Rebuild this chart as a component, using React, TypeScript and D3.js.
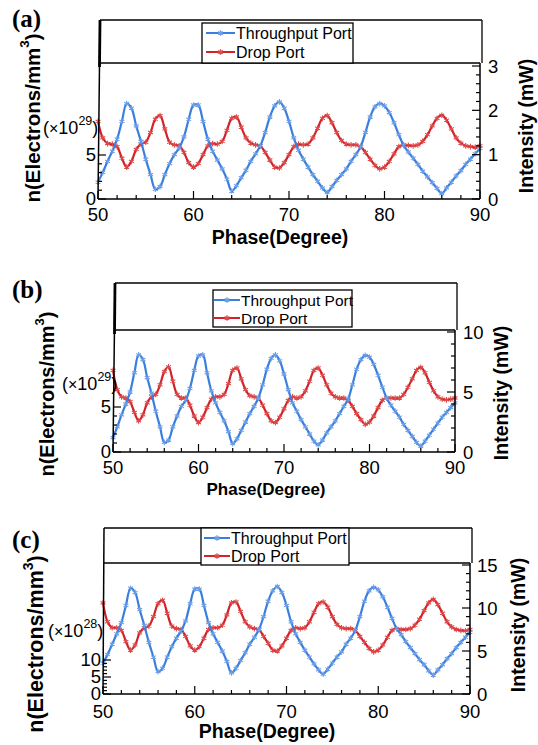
import React from "react";
import * as d3 from "d3";

// phase grid (degree), shared by all three panels
const phase = [
  50, 50.5, 51, 51.5, 52, 52.5, 53, 53.5, 54, 54.5,
  55, 55.5, 56, 56.5, 57, 57.5, 58, 58.5, 59, 59.5,
  60, 60.5, 61, 61.5, 62, 62.5, 63, 63.5, 64, 64.5,
  65, 65.5, 66, 66.5, 67, 67.5, 68, 68.5, 69, 69.5,
  70, 70.5, 71, 71.5, 72, 72.5, 73, 73.5, 74, 74.5,
  75, 75.5, 76, 76.5, 77, 77.5, 78, 78.5, 79, 79.5,
  80, 80.5, 81, 81.5, 82, 82.5, 83, 83.5, 84, 84.5,
  85, 85.5, 86, 86.5, 87, 87.5, 88, 88.5, 89, 89.5,
  90,
];

// (a) intensity, mW
const throughA = [
  0.38, 0.6, 0.85, 1.08, 1.35, 1.75, 2.15, 2.05, 1.65, 1.3,
  0.9, 0.55, 0.22, 0.28, 0.55, 0.8, 1.0, 1.15, 1.4, 1.8,
  2.12, 2.12, 1.75, 1.35, 1.08, 0.88, 0.68, 0.45, 0.18, 0.3,
  0.48, 0.65, 0.85, 1.02, 1.2, 1.5, 1.85, 2.1, 2.19, 2.05,
  1.75, 1.38, 1.1, 0.9, 0.72, 0.55, 0.4, 0.25, 0.15, 0.28,
  0.42, 0.55, 0.68, 0.85, 1.0, 1.18, 1.5, 1.85, 2.08, 2.15,
  2.1, 1.95, 1.72, 1.45, 1.21, 1.06, 0.92, 0.78, 0.63, 0.5,
  0.37, 0.24, 0.12, 0.25, 0.38, 0.52, 0.64, 0.78, 0.9, 1.02,
  1.14,
];
const dropA = [
  1.75, 1.38, 1.25, 1.24, 1.18, 0.92, 0.72, 0.85, 1.12, 1.24,
  1.28, 1.5, 1.8, 1.88, 1.58, 1.28, 1.22, 1.2, 1.05, 0.82,
  0.72, 0.8, 1.0, 1.2, 1.25, 1.24, 1.3, 1.55, 1.82, 1.85,
  1.62, 1.38, 1.26, 1.22, 1.2, 1.05, 0.88, 0.72, 0.7, 0.82,
  1.0, 1.18, 1.24, 1.22, 1.24, 1.38, 1.6, 1.82, 1.88, 1.72,
  1.5, 1.32, 1.24, 1.22, 1.22, 1.18, 1.05, 0.9, 0.76, 0.68,
  0.72, 0.85, 1.02, 1.18, 1.22, 1.21, 1.2, 1.22, 1.3, 1.45,
  1.65, 1.82, 1.89, 1.78, 1.58, 1.38, 1.26, 1.2, 1.18, 1.17,
  1.2,
];

// (b)
const throughB = [
  1.2, 2.1, 3.1, 4.0, 5.0, 6.6, 8.1, 7.7, 6.2, 4.9,
  3.4, 2.1, 0.8, 1.0, 2.1, 3.0, 3.8, 4.3, 5.3, 6.8,
  8.0, 8.1, 6.6, 5.1, 4.1, 3.3, 2.6, 1.7, 0.7, 1.1,
  1.8, 2.5, 3.2, 3.8, 4.5, 5.6, 6.9, 7.8, 8.1, 7.6,
  6.5, 5.2, 4.1, 3.4, 2.7, 2.1, 1.5, 0.9, 0.6, 1.0,
  1.6, 2.1, 2.6, 3.2, 3.8, 4.4, 5.6, 6.9, 7.7, 8.05,
  7.9, 7.3, 6.4, 5.4, 4.5, 3.9, 3.4, 2.9, 2.3, 1.8,
  1.3, 0.8, 0.5, 0.9, 1.4, 1.9, 2.4, 2.9, 3.3, 3.7,
  4.1,
];
const dropB = [
  6.8, 5.2, 4.6, 4.5, 4.2, 3.3, 2.6, 3.1, 4.1, 4.6,
  4.8, 5.6, 6.7, 7.1, 5.9, 4.8, 4.5, 4.5, 3.9, 3.0,
  2.45, 2.9, 3.7, 4.4, 4.6, 4.6, 4.8, 5.7, 6.8, 7.0,
  6.1, 5.2, 4.7, 4.6, 4.5, 3.9, 3.2, 2.6, 2.45, 2.9,
  3.6, 4.3, 4.6, 4.5, 4.6, 5.1, 5.9, 6.8, 7.0, 6.4,
  5.6, 4.9, 4.6, 4.5, 4.5, 4.3, 3.8, 3.2, 2.7, 2.3,
  2.5, 3.0, 3.7, 4.3, 4.5, 4.5, 4.5, 4.5, 4.8, 5.4,
  6.1, 6.8, 7.05, 6.6, 5.8, 5.1, 4.6, 4.4, 4.35, 4.4,
  4.5,
];

// (c)
const throughC = [
  3.6, 4.6, 5.8, 7.0, 8.3, 10.3, 12.3, 11.8, 9.8, 8.0,
  6.0, 4.3, 2.6, 3.0, 4.3, 5.5, 6.5, 7.3, 8.5, 10.5,
  12.2, 12.2, 10.3, 8.3, 7.0, 6.0, 5.0, 3.8, 2.45, 3.0,
  3.9, 4.8, 5.8, 6.6, 7.5, 9.0, 10.8, 12.0, 12.5, 11.8,
  10.3, 8.4, 7.0, 6.0, 5.1, 4.3, 3.5, 2.8, 2.3, 2.9,
  3.6, 4.3, 4.9, 5.8, 6.5, 7.4, 9.0, 10.8, 12.0, 12.4,
  12.1, 11.3, 10.1, 8.8, 7.6, 6.9, 6.1, 5.4, 4.7, 4.0,
  3.4, 2.7, 2.2, 2.8, 3.4, 4.1, 4.7, 5.4, 6.0, 6.6,
  7.2,
];
const dropC = [
  10.6, 8.4, 7.7, 7.7, 7.4, 6.1, 5.1, 5.7, 7.1, 7.7,
  7.9, 9.0, 10.5, 10.9, 9.4, 7.9, 7.6, 7.5, 6.7, 5.6,
  5.1, 5.5, 6.5, 7.5, 7.7, 7.7, 8.0, 9.2, 10.6, 10.7,
  9.6, 8.4, 7.8, 7.6, 7.5, 6.7, 5.9, 5.1, 5.0, 5.6,
  6.5, 7.4, 7.7, 7.6, 7.7, 8.4, 9.5, 10.5, 10.7, 10.1,
  9.0, 8.1, 7.7, 7.6, 7.6, 7.4, 6.7, 6.0, 5.3, 4.9,
  5.1, 5.7, 6.6, 7.4, 7.6, 7.5, 7.5, 7.6, 8.0, 8.7,
  9.7, 10.6, 11.0, 10.4, 9.4, 8.4, 7.8, 7.5, 7.4, 7.35,
  7.5,
];

const xTicks = [50, 60, 70, 80, 90];
const seriesNames = ["Throughput Port", "Drop Port"];

const BLUE = "#3b7fdc";
const BLUE_MK = "#6c9fe8";
const RED = "#d2222a";
const RED_MK = "#df4a4a";
const SANS = "'Liberation Sans', Arial, sans-serif";

// layout of each panel (pixels)
const panels = [
  {
    tag: "(a)", tagY: 27, through: throughA, drop: dropA,
    x0: 98, x1: 480, yB: 199, boxL: 100, boxT: 20, band: 63,
    rMax: 3, rTop: 66, rTicks: [0, 1, 2, 3], rMinor: 0.2, rLabX: 488,
    lMax: 5, lTop: 155, lTicks: [0, 5], expY: 128, expX: 43, exp: "29",
    leg: { x0: 202, x1: 353, y0: 23, y1: 63, lx0: 206, lx1: 235, r1: 33, r2: 52, fs: 16 },
    ylab: { cx: 32, cy: 118, fs: 20.5 }, ilab: { cx: 526, cy: 126, fs: 19.5 },
    xlab: { cx: 280, y: 244, fs: 19.5 }, tickY: 221, slant: true,
  },
  {
    tag: "(b)", tagY: 298, through: throughB, drop: dropB,
    x0: 113, x1: 455, yB: 452, boxL: 115, boxT: 283, band: 330,
    rMax: 10, rTop: 332, rTicks: [0, 5, 10], rMinor: 1, rLabX: 463,
    lMax: 5, lTop: 407, lTicks: [0, 5], expY: 384, expX: 62, exp: "29",
    leg: { x0: 213, x1: 352, y0: 290, y1: 327, lx0: 214, lx1: 240, r1: 300, r2: 318, fs: 15.5 },
    ylab: { cx: 47, cy: 394, fs: 20 }, ilab: { cx: 501, cy: 393, fs: 19.5 },
    xlab: { cx: 266, y: 495, fs: 17 }, tickY: 474, slant: true,
  },
  {
    tag: "(c)", tagY: 548, through: throughC, drop: dropC,
    x0: 103, x1: 470, yB: 694, boxL: 104, boxT: 528, band: 563,
    rMax: 15, rTop: 565, rTicks: [0, 5, 10, 15], rMinor: 1, rLabX: 477,
    lMax: 10, lTop: 660, lTicks: [0, 5, 10], expY: 631, expX: 48, exp: "28",
    leg: { x0: 201, x1: 349, y0: 528, y1: 565, lx0: 204, lx1: 230, r1: 538, r2: 556, fs: 16 },
    ylab: { cx: 36, cy: 644, fs: 21.5 }, ilab: { cx: 518, cy: 625, fs: 19.5 },
    xlab: { cx: 267, y: 738, fs: 19.5 }, tickY: 718, slant: false,
  },
];

function Panel({ p }: { p: any }) {
  const x = d3.scaleLinear().domain([50, 90]).range([p.x0, p.x1]);
  const yR = d3.scaleLinear().domain([0, p.rMax]).range([p.yB, p.rTop]);
  const yL = d3.scaleLinear().domain([0, p.lMax]).range([p.yB, p.lTop]);
  const mkLine = (vals: number[]) =>
    d3.line<number>()
      .x((_, i) => x(phase[i]))
      .y((d) => yR(d))
      .curve(d3.curveCatmullRom)(vals) || "";
  const mark = d3.symbol(d3.symbolAsterisk, 22)() || "";
  const xMinor = d3.range(50, 90.01, 2).filter((v) => v % 10 !== 0);
  const rMinor = d3.range(0, p.rMax + 1e-6, p.rMinor);
  const lMinor = d3.range(0, p.lMax + 1e-6, 1);
  const leg = p.leg;

  const series = [
    { vals: p.drop, color: RED, mk: RED_MK },
    { vals: p.through, color: BLUE, mk: BLUE_MK },
  ];

  return (
    <g fontFamily={SANS}>
      <text x={12} y={p.tagY} fontFamily="'Liberation Serif', 'Times New Roman', serif"
        fontWeight="bold" fontSize={25}>{p.tag}</text>

      {/* curves */}
      {series.map((s, k) => (
        <g key={k}>
          <path d={mkLine(s.vals)} fill="none" stroke={s.color} strokeWidth={2.2} />
          {s.vals.map((v: number, i: number) => (
            <path key={i} d={mark} transform={`translate(${x(phase[i])},${yR(v)})`}
              fill="none" stroke={s.mk} strokeWidth={1.1} />
          ))}
        </g>
      ))}

      {/* frame */}
      <g stroke="#000" fill="none">
        <line x1={p.boxL} y1={p.boxT} x2={p.x1 + 2} y2={p.boxT} strokeWidth={1.3} />
        <line x1={p.x1 + 2} y1={p.boxT} x2={p.x1 + 2} y2={p.band} strokeWidth={1.3} />
        <line x1={p.boxL} y1={p.band} x2={p.x1} y2={p.band} strokeWidth={1.3} />
        <line x1={p.x1} y1={p.band} x2={p.x1} y2={p.yB} strokeWidth={1.5} />
        <line x1={p.x0} y1={p.yB} x2={p.x1} y2={p.yB} strokeWidth={1.5} />
        <line x1={p.x0} y1={p.yB} x2={p.boxL} y2={p.boxT} strokeWidth={1.5} />
        {p.slant && (
          <line x1={p.boxL - 0.5} y1={p.band + 4} x2={p.boxL} y2={p.boxT} strokeWidth={2.8} />
        )}
      </g>

      {/* axis ticks, all pointing into the plot */}
      <g stroke="#000" strokeWidth={1.2}>
        {xTicks.map((t) => (
          <line key={t} x1={x(t)} x2={x(t)} y1={p.yB} y2={p.yB - 8} />
        ))}
        {xMinor.map((t) => (
          <line key={"m" + t} x1={x(t)} x2={x(t)} y1={p.yB} y2={p.yB - 4} />
        ))}
        {rMinor.map((t: number, i: number) => (
          <line key={"r" + i} x1={p.x1} x2={p.x1 - (p.rTicks.includes(+t.toFixed(3)) ? 8 : 4)}
            y1={yR(t)} y2={yR(t)} />
        ))}
        {lMinor.map((t: number, i: number) => (
          <line key={"l" + i} x1={p.x0} x2={p.x0 + (p.lTicks.includes(t) ? 8 : 4)}
            y1={yL(t)} y2={yL(t)} />
        ))}
      </g>
      <g fontSize={18.5}>
        {xTicks.map((t) => (
          <text key={t} x={x(t)} y={p.tickY} textAnchor="middle">{t}</text>
        ))}
        {p.rTicks.map((t: number) => (
          <text key={t} x={p.rLabX} y={yR(t)} dominantBaseline="central">{t}</text>
        ))}
        {p.lTicks.map((t: number) => (
          <text key={t} x={p.x0 - 2} y={yL(t) - 1} textAnchor="end" dominantBaseline="central">{t}</text>
        ))}
      </g>
      <text x={p.expX} y={p.expY} fontSize={18} dominantBaseline="central">
        (<tspan fontSize={16}>×</tspan>10<tspan dy={-7} fontSize={12.5}>{p.exp}</tspan>
        <tspan dy={7}>)</tspan>
      </text>

      {/* axis titles */}
      <text x={p.xlab.cx} y={p.xlab.y} textAnchor="middle" fontWeight="bold" fontSize={p.xlab.fs}>
        Phase(Degree)
      </text>
      <text transform={`translate(${p.ylab.cx},${p.ylab.cy}) rotate(-90)`} textAnchor="middle"
        dominantBaseline="central" fontWeight="bold" fontSize={p.ylab.fs}>
        n(Electrons/mm<tspan dy={-8} fontSize={p.ylab.fs * 0.65}>3</tspan><tspan dy={8}>)</tspan>
      </text>
      <text transform={`translate(${p.ilab.cx},${p.ilab.cy}) rotate(-90)`} textAnchor="middle"
        dominantBaseline="central" fontWeight="bold" fontSize={p.ilab.fs}>
        Intensity (mW)
      </text>

      {/* legend */}
      <rect x={leg.x0} y={leg.y0} width={leg.x1 - leg.x0} height={leg.y1 - leg.y0}
        fill="#fff" stroke="#000" strokeWidth={1.3} />
      {[{ c: BLUE, m: BLUE_MK, y: leg.r1 }, { c: RED, m: RED_MK, y: leg.r2 }].map((e, i) => (
        <g key={i}>
          <line x1={leg.lx0} x2={leg.lx1} y1={e.y} y2={e.y} stroke={e.c} strokeWidth={2} />
          <path d={mark} transform={`translate(${(leg.lx0 + leg.lx1) / 2},${e.y})`}
            fill="none" stroke={e.m} strokeWidth={1.3} />
          <text x={leg.lx1 + 1} y={e.y} dominantBaseline="central" fontSize={leg.fs}>
            {seriesNames[i]}
          </text>
        </g>
      ))}
    </g>
  );
}

export default function App() {
  return (
    <svg width={538} height={745} style={{ position: "absolute", left: 0, top: 0, background: "#fff" }}>
      <rect width={538} height={745} fill="#fff" />
      {panels.map((p, i) => (
        <Panel key={i} p={p} />
      ))}
    </svg>
  );
}
